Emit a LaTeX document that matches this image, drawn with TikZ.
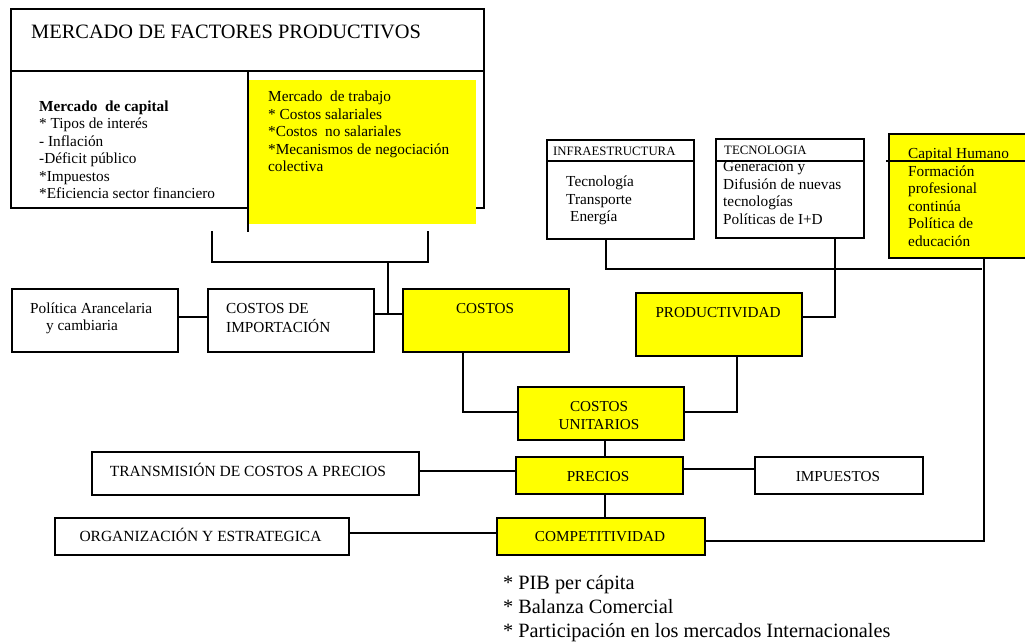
\documentclass[tikz,border=0pt]{standalone}
\usepackage{fontspec}
\setmainfont{Liberation Serif}
\definecolor{yel}{RGB}{255,255,0}
\begin{document}
\begin{tikzpicture}[x=1pt,y=-1pt,
  bx/.style={draw=black, line width=1.8pt, inner sep=0pt, anchor=north west},
  ybx/.style={bx, fill=yel},
  ln/.style={draw=black, line width=1.6pt},
  txt/.style={font=\fontsize{15.3}{17.5}\selectfont, inner sep=0pt, align=left},
  captxt/.style={font=\fontsize{15.2}{17.5}\selectfont, inner sep=0pt},
  hdr/.style={font=\fontsize{12.8}{15}\selectfont, inner sep=0pt, anchor=base west}]
\useasboundingbox (0,0) rectangle (1025,641);
% ---- top block
\node[bx, minimum width=473pt, minimum height=199pt] (mfp) at (10,8) {};
\draw[ln] (mfp.west |- 0,71) -- (mfp.east |- 0,71);
\draw[ln] (248,71) -- (248,232);
\node[fill=yel, inner sep=0pt, anchor=north west, minimum width=227pt, minimum height=144pt] (trab) at (249,80) {};
\node[font=\fontsize{20.4}{24}\selectfont, inner sep=0pt, anchor=base west] (title) at (31,38) {MERCADO DE FACTORES PRODUCTIVOS};
\node[txt, anchor=north west] (capt) at (39,98.75) {\strut\textbf{Mercado\ \ de capital}\\* Tipos de interés\\- Inflación\\-Déficit público\\*Impuestos\\*Eficiencia sector financiero};
\node[txt, anchor=north west] (trabt) at (268,89.5) {\strut Mercado\ \ de trabajo\\* Costos salariales\\*Costos\ \ no salariales\\*Mecanismos de negociación\\colectiva};
% bracket
\coordinate (bl) at (212,231);
\coordinate (br) at (428,231);
\coordinate (bm) at (388,262);
\draw[ln] (bl) -- (bl |- bm) -- (br |- bm) -- (br);
% ---- top right boxes
\node[bx, minimum width=147pt, minimum height=99pt] (infra) at (546,139) {};
\draw[ln] (infra.west |- 0,161) -- (infra.east |- 0,161);
\node[hdr] (infrah) at (553,155) {INFRAESTRUCTURA};
\node[txt, anchor=north west] (infrat) at (566,174.25) {\strut Tecnología\\Transporte\\\hspace*{4pt}Energía};
\node[bx, minimum width=148pt, minimum height=99pt] (tec) at (715,138) {};
\draw[ln] (tec.west |- 0,161) -- (tec.east |- 0,161);
\node[hdr] (tech) at (724,154.3) {TECNOLOGIA};
\node[txt, anchor=north west] (tect) at (723,159.45) {\strut Generación y\\Difusión de nuevas\\tecnologías\\Políticas de I+D};
\node[ybx, minimum width=150pt, minimum height=124pt] (caph) at (888,133) {};
\draw[ln] (886,161) -- (caph.east |- 0,161);
\node[txt, anchor=base west] (caphh) at (908,158.3) {Capital Humano};
\node[txt, anchor=north west] (capht) at (908,163.75) {\strut Formación\\profesional\\continúa\\Política de\\educación};
% ---- middle row
\node[bx, minimum width=166pt, minimum height=63pt] (pol) at (11,288) {};
\node[txt, anchor=north west] (polt) at (30,300.75) {\strut Política Arancelaria\\\hspace*{16pt}y cambiaria};
\node[bx, minimum width=166pt, minimum height=63pt] (cimp) at (207,288) {};
\node[txt, anchor=north west] (cimpt) at (226,300.75) {\strut COSTOS DE\\IMPORTACIÓN};
\node[ybx, minimum width=166pt, minimum height=63pt] (cost) at (402,288) {};
\node[captxt, anchor=base] (costt) at (485,313) {COSTOS};
\node[ybx, minimum width=166pt, minimum height=63pt] (prod) at (635,292) {};
\node[captxt, anchor=base] (prodt) at (718,317.7) {PRODUCTIVIDAD};
\node[ybx, minimum width=166pt, minimum height=53pt] (unit) at (517,386) {};
\node[captxt, align=center, anchor=north] (unitt) at (599,399.45) {\strut COSTOS\\UNITARIOS};
% ---- lower rows
\node[bx, minimum width=327pt, minimum height=43pt] (trans) at (91,451) {};
\node[captxt, font=\fontsize{15.5}{17.5}\selectfont, anchor=base] (transt) at (248,476) {TRANSMISIÓN DE COSTOS A PRECIOS};
\node[ybx, minimum width=167pt, minimum height=37pt] (prec) at (515,456) {};
\node[captxt, anchor=base] (prect) at (598,481.7) {PRECIOS};
\node[bx, minimum width=168pt, minimum height=37pt] (imp) at (754,456) {};
\node[captxt, anchor=base] (impt) at (838,481.7) {IMPUESTOS};
\node[ybx, minimum width=208pt, minimum height=37pt] (comp) at (496,517) {};
\node[captxt, anchor=base] (compt) at (600,541.7) {COMPETITIVIDAD};
\node[bx, minimum width=294pt, minimum height=37pt] (org) at (54,517) {};
\node[captxt, font=\fontsize{15.5}{17.5}\selectfont, anchor=base] (orgt) at (200.5,541) {ORGANIZACIÓN Y ESTRATEGICA};
\node[txt, font=\fontsize{20.3}{24.2}\selectfont, anchor=north west] (bul) at (503,572.4) {\strut * PIB per cápita\\* Balanza Comercial\\* Participación en los mercados Internacionales};
% ---- connectors
\draw[ln] (bm) -- (bm |- 0,314);
\draw[ln] (cimp.east |- 0,314) -- (cost.west |- 0,314);
\draw[ln] (pol.east |- 0,317) -- (cimp.west |- 0,317);
\draw[ln] (infra.south -| 606,0) -- (606,269) -- (982,269);
\draw[ln] (tec.south -| 835,0) -- (835,317) -- (prod.east |- 0,317);
\draw[ln] (caph.south -| 984,0) -- (984,541) -- (comp.east |- 0,541);
\draw[ln] (prod.south -| 737,0) -- (737,412) -- (unit.east |- 0,412);
\draw[ln] (cost.south -| 463,0) -- (463,412) -- (unit.west |- 0,412);
\draw[ln] (unit.south -| 605,0) -- (prec.north -| 605,0);
\draw[ln] (prec.south -| 605,0) -- (comp.north -| 605,0);
\draw[ln] (trans.east |- 0,471) -- (prec.west |- 0,471);
\draw[ln] (prec.east |- 0,469) -- (imp.west |- 0,469);
\draw[ln] (org.east |- 0,533) -- (comp.west |- 0,533);
\end{tikzpicture}
\end{document}
